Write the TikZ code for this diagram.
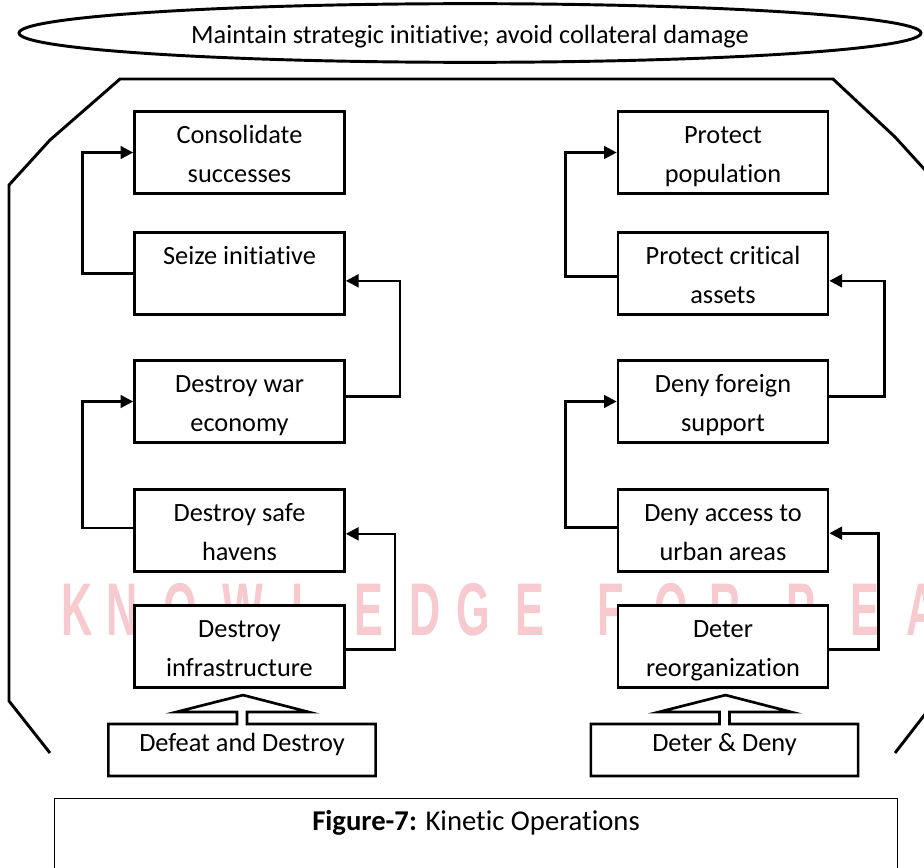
\documentclass[tikz,border=0pt]{standalone}
\usepackage{fontspec}
\setmainfont{Carlito}[Ligatures={NoCommon}]
\newfontfamily\wmfont{Liberation Sans}[Ligatures={NoCommon}]
\usetikzlibrary{shapes.geometric,arrows.meta,calc}
\definecolor{wmpink}{RGB}{247,202,208}
\newcommand{\twolines}[2]{\raisebox{-2.2pt}[\height][\depth]{\begin{tabular}{@{}c@{}}#1\\#2\end{tabular}}}
\newcommand{\lowered}[2]{\raisebox{#1}[\height][\depth]{#2}}
\tikzset{
  boxfont/.style={font=\fontsize{19.75}{29.3}\selectfont},
  stepbox/.style={draw, fill=white, line width=2pt, minimum width=157.5pt,
    minimum height=61.5pt, inner sep=0pt, boxfont},
  basebox/.style={fill=white, minimum width=200pt, minimum height=38.5pt,
    inner sep=0pt, boxfont},
  conn/.style={line width=2pt, -{Triangle[length=9.5pt,width=9.5pt]}},
  outline/.style={line width=2.2pt},
  blockarrow/.style={line width=2pt},
  wm/.style={text=wmpink, inner sep=0pt, font=\wmfont\bfseries\fontsize{56}{60}\selectfont},
}
\begin{document}
\begin{tikzpicture}[x=0.75pt,y=-0.75pt]
\useasboundingbox (0,0) rectangle (924,867);
\fill[white] (0,0) rectangle (924,867);

% watermark letters
\foreach \ch/\xx [count=\i] in {K/77,N/122,O/180,W/243,L/305,E/369,D/425,G/473,E/530,F/611,O/671,R/725,P/801,E/865,A/922}
  \node[wm] (wm\i) at (\xx,610) {\scalebox{0.58}[1]{\ch}};

% outer frame
\draw[outline] (50,753) -- (9,701) -- (9,185) -- (50,140) -- (120,79) -- (833,79)
  -- (895,137) -- (936,182) -- (936,700) -- (895,753);

% goal ellipse
\node[ellipse, draw, fill=white, line width=2.2pt, minimum width=676.5pt,
  minimum height=44pt, inner sep=0pt, boxfont] (goal) at (470,33)
  {\lowered{-2.5pt}{Maintain strategic initiative; avoid collateral damage}};

% left column
\node[stepbox] (cons)   at (239.5,152.5) {\twolines{Consolidate}{successes}};
\node[stepbox] (seize)  at (239.5,273.5) {\twolines{Seize initiative}{\vphantom{g}}};
\node[stepbox] (war)    at (239.5,401.5) {\twolines{Destroy war}{economy}};
\node[stepbox] (havens) at (239.5,530.5) {\twolines{Destroy safe}{havens}};
\node[stepbox] (infra)  at (239.5,646.5) {\twolines{Destroy}{infrastructure}};

% right column
\node[stepbox] (pop)     at (723,152.5) {\twolines{Protect}{population}};
\node[stepbox] (crit)    at (723,273.5) {\twolines{Protect critical}{assets}};
\node[stepbox] (foreign) at (723,401.5) {\twolines{Deny foreign}{support}};
\node[stepbox] (access)  at (723,530.5) {\twolines{Deny access to}{urban areas}};
\node[stepbox] (reorg)   at (723,646.5) {\twolines{Deter}{reorganization}};

% base boxes
\node[basebox] (dd) at (242,750) {\lowered{4pt}{Defeat and Destroy}};
\node[basebox] (deny) at (724.5,750) {\lowered{4pt}{Deter \& Deny}};

% base box outlines merged with hollow block arrows
\foreach \b in {dd,deny}{
  \draw[blockarrow]
    ($(\b.north)+(-5,0)$) -- (\b.north west) -- (\b.south west) -- (\b.south east)
    -- (\b.north east) -- ($(\b.north)+(5,0)$) -- ($(\b.north)+(5,-12)$)
    -- ($(\b.north)+(67,-12)$) -- ($(\b.north)+(1,-29)$) -- ($(\b.north)+(-66,-12)$)
    -- ($(\b.north)+(-5,-12)$) -- cycle;
}

% connectors left
\draw[conn] (seize.west) -- ++(-51,0) |- (cons.west);
\draw[conn] ([yshift=4pt]war.east) -- ++(54,0) |- ([yshift=-5.5pt]seize.east);
\draw[conn] ([yshift=2pt]havens.west) -- ++(-51,0) |- (war.west);
\draw[conn] ([yshift=-2pt]infra.east) -- ++(49,0) |- ([yshift=-2.5pt]havens.east);

% connectors right
\draw[conn] ([yshift=-2pt]crit.west) -- ++(-51,0) |- (pop.west);
\draw[conn] ([yshift=4pt]foreign.east) -- ++(55,0) |- ([yshift=-5.5pt]crit.east);
\draw[conn] ([yshift=2.5pt]access.west) -- ++(-51,0) |- (foreign.west);
\draw[conn] ([yshift=-2pt]reorg.east) -- ++(49,0) |- ([yshift=-2pt]access.east);

% caption
\node[draw, line width=1.1pt, minimum width=632pt, minimum height=75pt,
  anchor=north, inner sep=0pt] (capbox) at (476,797.5) {};
\node[font=\fontsize{21.5}{26}\selectfont, inner sep=0pt] (cap) at (476,823) {\textbf{Figure-7:} Kinetic Operations};
\end{tikzpicture}
\end{document}
